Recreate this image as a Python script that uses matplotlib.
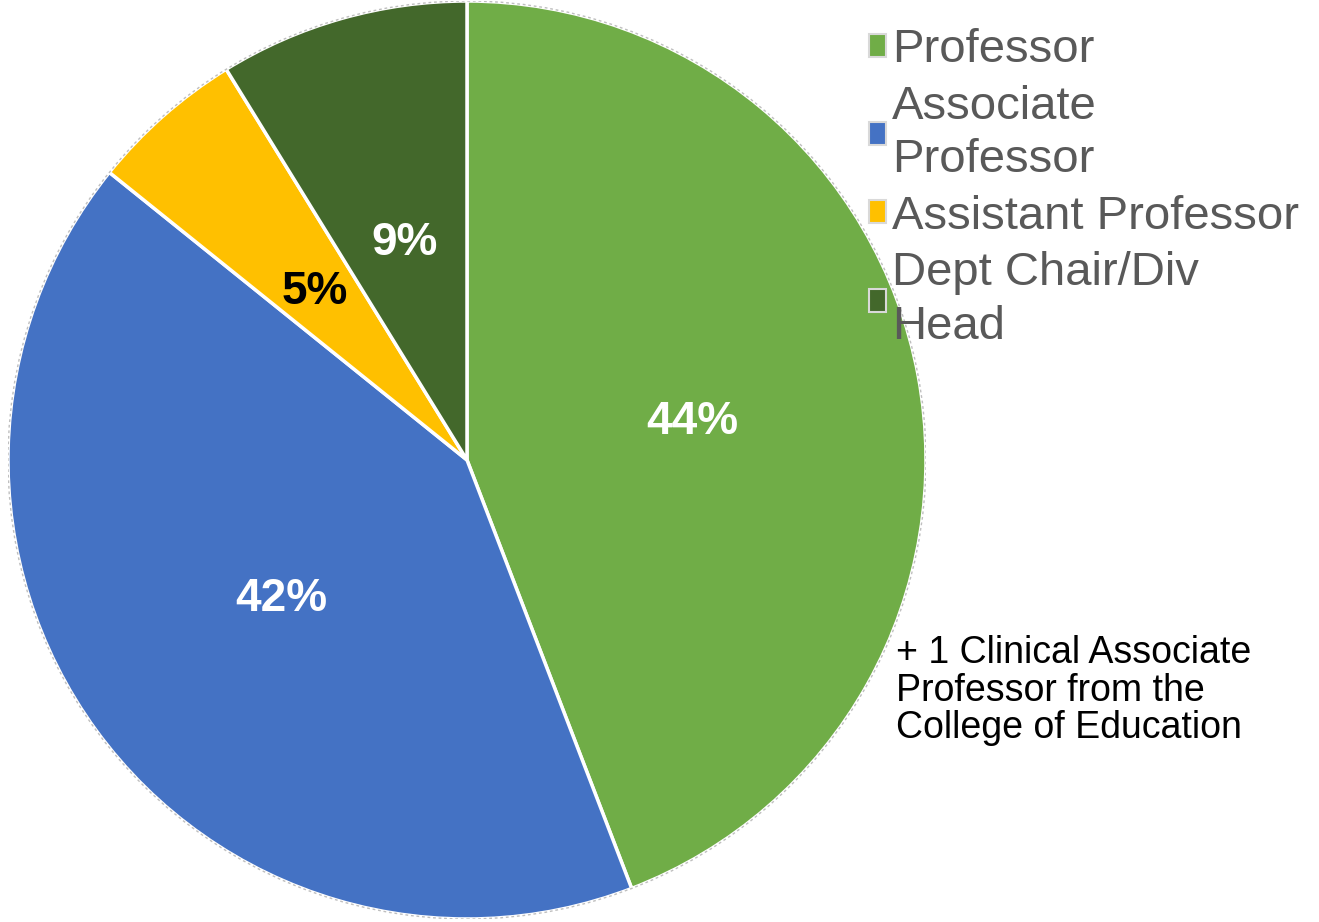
import numpy as np
import matplotlib
matplotlib.use("Agg")
from matplotlib import pyplot as plt
from matplotlib.patches import Circle

plt.rcParams['font.family'] = ['Liberation Sans', 'DejaVu Sans']

# share of faculty by rank (percent)
categories = ["Professor", "Associate\nProfessor", "Assistant Professor", "Dept Chair/Div\nHead"]
shares = [44.16, 41.62, 5.43, 8.79]
colors = ["#70AD47", "#4472C4", "#FFC000", "#43682B"]
pct_colors = ["white", "white", "black", "white"]
note = "+ 1 Clinical Associate\nProfessor from the\nCollege of Education"

W, H = 1319, 922
fig = plt.figure(figsize=(W / 100, H / 100), dpi=100)
cx, cy, r = 467, 460, 459
ax = fig.add_axes([(cx - r) / W, (H - cy - r) / H, 2 * r / W, 2 * r / H])

wedges, texts, autotexts = ax.pie(shares, colors=colors, startangle=90, counterclock=False,
                                  autopct="%1.0f%%", pctdistance=0.5,
                                  wedgeprops=dict(edgecolor="white", linewidth=2.5))
for t, c in zip(autotexts, pct_colors):
    t.set_color(c)
    t.set_fontsize(33)
    t.set_fontweight("bold")
    x, y = t.get_position()
    t.set_position((x, y - 0.009))

ax.add_patch(Circle((0, 0), 1.0, fill=False, edgecolor="#bfbfbf", linewidth=1, linestyle=(0, (2, 2))))
ax.set_xlim(-1, 1)
ax.set_ylim(-1, 1)
ax.set_aspect("auto")

leg = fig.legend(wedges, categories, loc="upper left", bbox_to_anchor=(869 / W, (H - 28) / H),
                 frameon=False, fontsize=34, borderpad=0, borderaxespad=0,
                 handlelength=0.37, handleheight=0.37, handletextpad=0.12, labelspacing=0.27)
for t in leg.get_texts():
    t.set_color("#595959")
    t.set_linespacing(1.27)
for h in leg.legend_handles:
    h.set_edgecolor("#d9d9d9")
    h.set_linewidth(1.5)

# va="baseline" on multi-line text anchors the last line
fig.text(896 / W, (H - 738) / H, note, fontsize=27, color="black", va="baseline", linespacing=1.05)

fig.savefig("out.png", dpi=100)
